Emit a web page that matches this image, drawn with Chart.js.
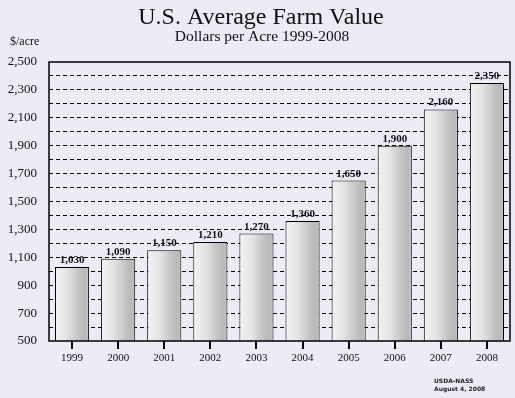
<!DOCTYPE html>
<html>
<head>
<meta charset="utf-8">
<script src="https://cdn.jsdelivr.net/npm/chart.js@4/dist/chart.umd.min.js"></script>
<style>
    html, body { margin: 0; padding: 0; background: #ececf7; }
    #wrap { width: 515px; height: 398px; }
</style>
</head>
<body>
<div id="wrap"><canvas id="farm"></canvas></div>
<script>
const years = ['1999', '2000', '2001', '2002', '2003', '2004', '2005', '2006', '2007', '2008'];
const valuePerAcre = [1030, 1090, 1150, 1210, 1270, 1360, 1650, 1900, 2160, 2350];
const yMin = 500;
const yMax = 2500;
const yStep = 100;

const SERIF = '"Liberation Serif", "DejaVu Serif", serif';
const BAR_PCT = 0.74;

function fmt(v) {
    return v.toLocaleString('en-US');
}

function barFill(context) {
    const chart = context.chart;
    const x = chart.scales.x;
    if (!x || !x.width) return '#d0d0d0';
    const center = x.getPixelForValue(context.dataIndex);
    const half = (x.width / years.length) * BAR_PCT / 2;
    if (!isFinite(center) || !isFinite(half) || half <= 0) return '#d0d0d0';
    const g = chart.ctx.createLinearGradient(center - half, 0, center + half, 0);
    g.addColorStop(0, '#f3f3f3');
    g.addColorStop(0.35, '#e4e4e4');
    g.addColorStop(0.75, '#c0c0c0');
    g.addColorStop(0.9, '#b8b8b8');
    g.addColorStop(1, '#cccccc');
    return g;
}

// titles, frame, x tick marks, value labels and source note
const decorations = {
    id: 'decorations',
    afterDraw(chart) {
        const { ctx, chartArea: a } = chart;
        const meta = chart.getDatasetMeta(0);
        const xs = chart.scales.x;
        ctx.save();
        ctx.fillStyle = '#111';
        ctx.textAlign = 'center';
        ctx.textBaseline = 'alphabetic';
        ctx.font = '24px ' + SERIF;
        ctx.fillText('U.S. Average Farm Value', 261, 24);
        ctx.font = '15.5px ' + SERIF;
        ctx.fillText('Dollars per Acre 1999-2008', 262, 41);
        ctx.textAlign = 'left';
        ctx.font = '12px ' + SERIF;
        ctx.fillText('$/acre', 10, 45);

        // value labels
        ctx.textAlign = 'center';
        ctx.font = 'bold 11px ' + SERIF;
        meta.data.forEach((bar, i) => {
            ctx.fillText(fmt(valuePerAcre[i]), bar.x, bar.y - 4);
        });

        // plot frame
        ctx.strokeStyle = '#000';
        ctx.lineWidth = 1.5;
        ctx.strokeRect(a.left, a.top, a.right - a.left, a.bottom - a.top);

        // x tick marks below the axis, one per category
        const base = xs.top;
        ctx.fillStyle = '#000';
        for (let i = 0; i < years.length; i++) {
            const px = Math.round(xs.getPixelForTick(i));
            ctx.fillRect(px - 1, base, 2, 8);
        }

        // source note
        ctx.textAlign = 'left';
        ctx.font = 'bold 6px "DejaVu Sans", sans-serif';
        ctx.fillStyle = '#222';
        ctx.fillText('USDA-NASS', 434, 383);
        ctx.fillText('August 4, 2008', 434, 391);
        ctx.restore();
    }
};

new Chart(document.getElementById('farm'), {
    type: 'bar',
    data: {
        labels: years,
        datasets: [{
            data: valuePerAcre,
            backgroundColor: barFill,
            borderColor: '#000',
            borderWidth: 1,
            borderSkipped: false,
            barPercentage: BAR_PCT,
            categoryPercentage: 1
        }]
    },
    options: {
        responsive: true,
        maintainAspectRatio: false,
        animation: false,
        layout: { padding: { top: 62, right: 5, left: 0, bottom: 0 } },
        plugins: {
            legend: { display: false },
            tooltip: { enabled: false }
        },
        scales: {
            x: {
                afterFit(scale) { scale.height = 57; },
                grid: { display: false, drawTicks: false },
                border: { display: false },
                ticks: {
                    color: '#111',
                    padding: 11,
                    font: { family: SERIF, size: 11 }
                }
            },
            y: {
                min: yMin,
                max: yMax,
                afterFit(scale) { scale.width = 49; },
                border: { display: false, dash: [4, 3] },
                grid: {
                    drawTicks: false,
                    color: ctx => (ctx.tick && (ctx.tick.value === yMin || ctx.tick.value === yMax)) ? 'rgba(0,0,0,0)' : '#000',
                    lineWidth: 1
                },
                ticks: {
                    stepSize: yStep,
                    autoSkip: false,
                    color: '#111',
                    padding: 12,
                    font: { family: SERIF, size: 13 },
                    callback: v => ((v - yMin) % 200 === 0 ? fmt(v) : '')
                }
            }
        }
    },
    plugins: [decorations]
});
</script>
</body>
</html>
